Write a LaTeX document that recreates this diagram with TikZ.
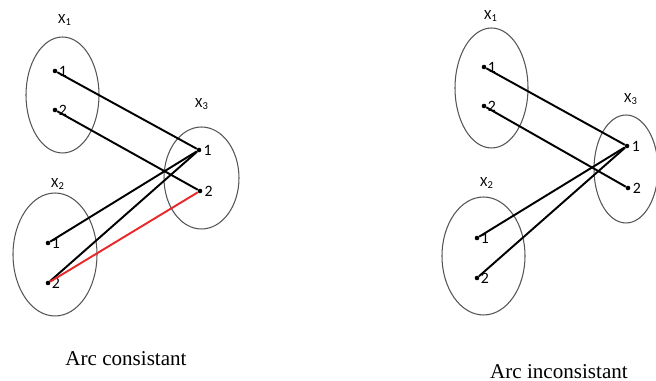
\documentclass[tikz,border=0pt]{standalone}
\usepackage{fontspec}
\setmainfont{Liberation Serif}
\newfontfamily\lblfont{Carlito}
\usetikzlibrary{shapes.geometric, positioning}
\definecolor{arcred}{HTML}{E8282B}
\definecolor{ringgray}{HTML}{555555}

\begin{document}
\begin{tikzpicture}[
    x=0.02cm, y=-0.02cm,
    ring/.style    = {ellipse, draw=ringgray, line width=0.6pt, inner sep=0pt},
    val/.style     = {circle, fill=black, inner sep=0pt, minimum size=2.6pt},
    num/.style     = {font=\lblfont\fontsize{9}{10}\selectfont, inner sep=0pt},
    var/.style     = {font=\lblfont\fontsize{8}{9}\selectfont, inner sep=0pt},
    capt/.style    = {font=\fontsize{12}{14}\selectfont, inner sep=0pt},
    link/.style    = {line width=1.1pt, color=black},
    badlink/.style = {line width=1.1pt, color=arcred}
  ]
  \useasboundingbox (0,0) rectangle (656,381);

  % ── Arc consistant : domains ───────────────────────────────────────────────
  \node[ring, minimum width=1.46cm, minimum height=2.32cm] (lXa) at (62.5, 95) {};
  \node[ring, minimum width=1.68cm, minimum height=2.46cm] (lXb) at (55, 254.5) {};
  \node[ring, minimum width=1.50cm, minimum height=2.04cm] (lXc) at (201.5, 178) {};
  \node[var] (lXaname) at (65, 20)  {X\textsubscript{1}};
  \node[var] (lXbname) at (58, 184) {X\textsubscript{2}};
  \node[var] (lXcname) at (202, 104) {X\textsubscript{3}};

  % ── Arc consistant : values ────────────────────────────────────────────────
  \node[val, label={[num, label distance=0.5pt]east:1}] (la1) at (55, 71)  {};
  \node[val, label={[num, label distance=0.5pt]east:2}] (la2) at (55, 110) {};
  \node[val, label={[num, label distance=0.5pt]east:1}] (lb1) at (48, 243) {};
  \node[val, label={[num, label distance=0.5pt]east:2}] (lb2) at (48, 283) {};
  \node[val, label={[num, label distance=1pt]east:1}]   (lc1) at (199, 150) {};
  \node[val, label={[num, label distance=1pt]east:2}]   (lc2) at (200, 191) {};

  % ── Arc consistant : arcs ──────────────────────────────────────────────────
  \draw[link] (la1) -- (lc1);
  \draw[link] (la2) -- (lc2);
  \draw[link] (lb1) -- (lc1);
  \draw[link] (lb2) -- (lc1);
  \draw[badlink] (lb2) -- (lc2);

  \node[capt] (lcap) at (126, 359) {Arc consistant};

  % ── Arc inconsistant : domains ─────────────────────────────────────────────
  \node[ring, minimum width=1.46cm, minimum height=2.40cm] (rXa) at (491.5, 88) {};
  \node[ring, minimum width=1.66cm, minimum height=2.36cm] (rXb) at (483.5, 256) {};
  \node[ring, minimum width=1.28cm, minimum height=2.16cm] (rXc) at (626, 169) {};
  \node[var] (rXaname) at (491, 16)  {X\textsubscript{1}};
  \node[var] (rXbname) at (487, 183) {X\textsubscript{2}};
  \node[var] (rXcname) at (631, 99)  {X\textsubscript{3}};

  % ── Arc inconsistant : values ──────────────────────────────────────────────
  \node[val, label={[num, label distance=0.5pt]east:1}] (ra1) at (484, 67)  {};
  \node[val, label={[num, label distance=0.5pt]east:2}] (ra2) at (484, 106) {};
  \node[val, label={[num, label distance=0.5pt]east:1}] (rb1) at (477, 238) {};
  \node[val, label={[num, label distance=0.5pt]east:2}] (rb2) at (477, 278) {};
  \node[val, label={[num, label distance=1pt]east:1}]   (rc1) at (627, 146) {};
  \node[val, label={[num, label distance=1pt]east:2}]   (rc2) at (628, 188) {};

  % ── Arc inconsistant : arcs ────────────────────────────────────────────────
  \draw[link] (ra1) -- (rc1);
  \draw[link] (ra2) -- (rc2);
  \draw[link] (rb1) -- (rc1);
  \draw[link] (rb2) -- (rc1);

  \node[capt] (rcap) at (559, 372) {Arc inconsistant};

\end{tikzpicture}
\end{document}
